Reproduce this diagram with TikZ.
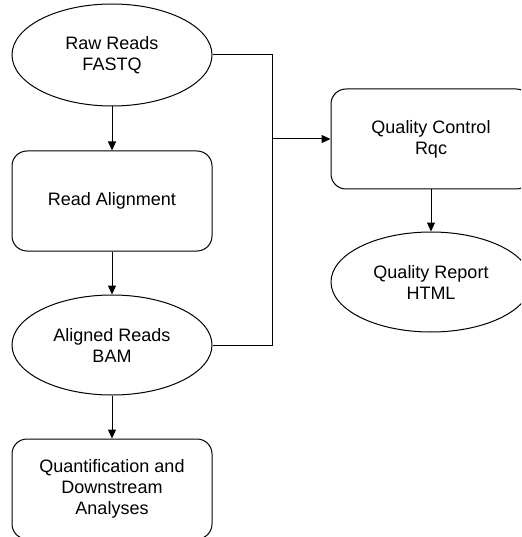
\documentclass[tikz,border=0pt]{standalone}
\usepackage{fontspec}
\setmainfont{Liberation Sans}
\usetikzlibrary{shapes.geometric,arrows.meta}
\begin{document}
\begin{tikzpicture}[x=1pt,y=-1pt,
  every node/.style={font=\fontsize{18}{21}\selectfont, align=center, inner sep=0pt, draw, line width=1pt},
  oval/.style={ellipse, minimum width=200pt, minimum height=102pt},
  stepbox/.style={rectangle, rounded corners=15pt, minimum width=200pt, minimum height=100pt},
  link/.style={line width=1pt},
  flow/.style={link, -{Triangle[length=9pt,width=8pt]}}]
  \useasboundingbox (0,0) rectangle (521,537);
  \clip (0,0) rectangle (521,537);
  % left column
  \node[oval] (raw) at (112,55) {Raw Reads\\FASTQ};
  \node[stepbox] (align) at (112,201) {Read Alignment};
  \node[oval, minimum height=100pt] (bam) at (112,345) {Aligned Reads\\BAM};
  \node[stepbox] (quant) at (112,489) {Quantification and\\Downstream\\Analyses};
  % right column
  \node[stepbox] (qc) at (431,139) {Quality Control\\Rqc};
  \node[oval, minimum height=100pt] (rep) at (431,282) {Quality Report\\HTML};
  % junction feeding quality control
  \coordinate (join) at (272,139);
  % connectors
  \draw[flow] (raw) -- (align);
  \draw[flow] (align) -- (bam);
  \draw[flow] (bam) -- (quant);
  \draw[flow] (qc) -- (rep);
  \draw[link] (raw.east) -| (join);
  \draw[link] (bam.east) -| (join);
  \draw[flow] (join) -- (qc.west);
\end{tikzpicture}
\end{document}
